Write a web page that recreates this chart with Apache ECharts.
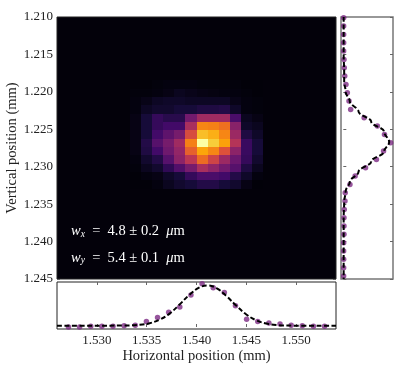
<!DOCTYPE html>
<html>
<head>
<meta charset="utf-8">
<title>Beam spot</title>
<script src="https://cdn.jsdelivr.net/npm/echarts@6/dist/echarts.min.js"></script>
<style>
html, body { margin: 0; padding: 0; background: #fff; }
#main { width: 407px; height: 366px; }
</style>
</head>
<body>
<div id="main"></div>
<script>
var xTicks = [1.530, 1.535, 1.540, 1.545, 1.550];
var yTicks = [1.210, 1.215, 1.220, 1.225, 1.230, 1.235, 1.240, 1.245];

// camera pixel pitch in mm, first column / row centre
var colStart = 1.52715, colStep = 0.0011175, colCount = 24;
var rowStart = 1.2101, rowStep = 0.001113, rowCount = 32;

// image intensity, columns 6-17 and rows 8-20, all the rest is backgroundLevel
var backgroundLevel = 0.012;
var spotFirstCol = 6, spotFirstRow = 8;
var spotRows = [
	[.01, .01, .015, .02, .02, .02, .015, .015, .015, .015, .01, .01],
	[.015, .015, .02, .03, .05, .04, .03, .025, .02, .02, .015, .01],
	[.02, .035, .06, .07, .07, .06, .06, .06, .06, .035, .02, .015],
	[.02, .06, .08, .08, .10, .10, .12, .12, .13, .07, .02, .015],
	[.03, .10, .17, .14, .14, .32, .43, .43, .43, .22, .05, .03],
	[.03, .10, .17, .20, .20, .45, .73, .72, .68, .37, .07, .05],
	[.03, .10, .20, .27, .33, .58, .85, .82, .73, .42, .12, .07],
	[.03, .13, .25, .33, .43, .72, 1.0, .88, .79, .48, .18, .10],
	[.03, .12, .20, .31, .40, .64, .80, .73, .60, .38, .18, .10],
	[.02, .08, .13, .25, .38, .50, .67, .55, .42, .30, .17, .08],
	[.015, .05, .08, .16, .24, .33, .45, .39, .32, .25, .12, .05],
	[.01, .02, .03, .07, .10, .17, .22, .22, .20, .13, .07, .02],
	[.01, .01, .02, .05, .08, .10, .13, .13, .10, .08, .03, .01]
];

// line cuts through the brightest pixel
var cutX = [0, 0, .015, .015, .02, .03, .04, .13, .22, .34, .46, .74, 1, .91, .80, .49, .18, .13, .09, .07, .04, .03, .02, .015];
var cutY = [.007, .007, .007, .007, .007, .014, .02, .03, .056, .085, .12, .155, .44, .72, .87, 1, .85, .70, .47, .25, .14, .04, .035, .02, .014, .014, .014, .007, .007, .007, .007, .007];

// gaussian fits
var fitXPos = [1.526, 1.5293, 1.5327, 1.5343, 1.5353, 1.5363, 1.5373, 1.5383, 1.5393, 1.5403, 1.5411, 1.5420, 1.5430, 1.5440, 1.5450, 1.5460, 1.5470, 1.5480, 1.5497, 1.554];
var fitXVal = [.03, .03, .035, .05, .087, .17, .31, .52, .746, .915, .96, .90, .715, .49, .29, .155, .08, .048, .032, .03];
var fitYPos = [1.21, 1.2151, 1.2173, 1.2186, 1.2200, 1.2213, 1.2226, 1.2240, 1.2253, 1.2267, 1.2280, 1.2293, 1.2307, 1.2320, 1.2333, 1.2347, 1.2369, 1.245];
var fitYVal = [.007, .007, .018, .018, .049, .137, .32, .59, .86, .97, .86, .59, .32, .137, .049, .018, .007, .007];

var inferno = ['#000004', '#160b39', '#420a68', '#6a176e', '#932667', '#bc3754', '#dd513a', '#f37819', '#fca50a', '#f6d746', '#fcffa4'];

var xTitle = 'Horizontal position (mm)';
var yTitle = 'Vertical position (mm)';
var labelWx = '{i|w}{s|x}{n|  =  4.8 ± 0.2  }{i|μ}{n|m}';
var labelWy = '{i|w}{s|y}{n|  =  5.4 ± 0.1  }{i|μ}{n|m}';

var fontName = '"Liberation Serif", "Times New Roman", serif';
var frameDark = '#222';
var frameGrey = '#777';
var dotColor = '#7d2c85';

function colPos(i) { return colStart + i * colStep; }
function rowPos(i) { return rowStart + i * rowStep; }

function buildCells() {
	var cells = [];
	for(var r = 0; r < rowCount; r++) {
		for(var c = -1; c <= colCount; c++) {
			var v = backgroundLevel;
			var line = spotRows[r - spotFirstRow];
			if(line && line[c - spotFirstCol] !== undefined) {
				v = line[c - spotFirstCol];
			}
			cells.push([colPos(c), rowPos(r), v]);
		}
	}
	return cells;
}

function renderCell(params, api) {
	var x = api.value(0), y = api.value(1);
	var a = api.coord([x - colStep / 2, y - rowStep / 2]);
	var b = api.coord([x + colStep / 2, y + rowStep / 2]);
	// snapped so no white seams show between the cells
	var rect = echarts.graphic.clipRectByRect({
		x: Math.round(a[0]),
		y: Math.round(a[1]),
		width: Math.round(b[0]) - Math.round(a[0]),
		height: Math.round(b[1]) - Math.round(a[1])
	}, {
		x: params.coordSys.x,
		y: params.coordSys.y,
		width: params.coordSys.width,
		height: params.coordSys.height
	});
	if(!rect) {
		return;
	}
	return {
		type: 'rect',
		shape: rect,
		style: { fill: api.visual('color') }
	};
}

function zip(a, b) {
	var out = [];
	for(var i = 0; i < a.length; i++) {
		out.push([a[i], b[i]]);
	}
	return out;
}

function tickAxis(grid, pos, ticks, color) {
	return {
		type: 'value',
		gridIndex: grid,
		position: pos,
		silent: true,
		splitLine: { show: false },
		axisLine: { show: false },
		axisLabel: { show: false },
		axisTick: { show: true, inside: true, length: 3, customValues: ticks, lineStyle: { color: color, width: 1 } }
	};
}

function withRange(axis, min, max, extra) {
	axis.min = min;
	axis.max = max;
	for(var k in extra) {
		axis[k] = extra[k];
	}
	return axis;
}

var tickFont = { show: true, color: '#222', fontFamily: fontName, fontSize: 13, formatter: function(v) { return v.toFixed(3); } };
var nameFont = { color: '#222', fontFamily: fontName, fontSize: 14.5 };

var mainLeft = tickAxis(0, 'left', yTicks, '#999');
mainLeft.axisLabel = Object.assign({ customValues: yTicks, margin: 4 }, tickFont);
mainLeft.name = yTitle;
mainLeft.nameLocation = 'middle';
mainLeft.nameGap = 37;
mainLeft.nameMoveOverlap = false;
mainLeft.nameTextStyle = nameFont;

var bottomAxis = tickAxis(1, 'bottom', xTicks, '#666');
bottomAxis.axisLabel = Object.assign({ customValues: xTicks, margin: 5 }, tickFont);
bottomAxis.name = xTitle;
bottomAxis.nameLocation = 'middle';
bottomAxis.nameGap = 20;
bottomAxis.nameTextStyle = nameFont;

var option = {
	animation: false,
	backgroundColor: '#fff',
	grid: [
		{ left: 57, top: 17, width: 279, height: 262, show: true, borderColor: frameDark, borderWidth: 1, z: 5, outerBoundsMode: 'none' },
		{ left: 57, top: 282, width: 279, height: 47, show: true, borderColor: frameDark, borderWidth: 1, outerBoundsMode: 'none' },
		{ left: 341, top: 17, width: 52, height: 262, show: true, borderColor: frameGrey, borderWidth: 1.5, outerBoundsMode: 'none' }
	],
	xAxis: [
		withRange(tickAxis(0, 'bottom', xTicks, '#ccc'), 1.526, 1.554),
		withRange(tickAxis(0, 'top', xTicks, '#999'), 1.526, 1.554),
		withRange(bottomAxis, 1.526, 1.554),
		withRange(tickAxis(1, 'top', xTicks, '#666'), 1.526, 1.554),
		withRange(tickAxis(2, 'bottom', [], '#666'), -0.049, 1.05)
	],
	yAxis: [
		withRange(mainLeft, 1.21, 1.245, { inverse: true }),
		withRange(tickAxis(0, 'right', yTicks, '#999'), 1.21, 1.245, { inverse: true }),
		withRange(tickAxis(1, 'left', [], '#666'), -0.046, 1.04),
		withRange(tickAxis(2, 'left', yTicks, '#666'), 1.21, 1.245, { inverse: true }),
		withRange(tickAxis(2, 'right', yTicks, '#666'), 1.21, 1.245, { inverse: true })
	],
	visualMap: {
		show: false,
		seriesIndex: 0,
		dimension: 2,
		min: 0,
		max: 1,
		inRange: { color: inferno }
	},
	series: [
		{
			type: 'custom',
			xAxisIndex: 0,
			yAxisIndex: 0,
			encode: { x: 0, y: 1 },
			renderItem: renderCell,
			data: buildCells(),
			silent: true
		},
		{
			type: 'scatter',
			xAxisIndex: 2,
			yAxisIndex: 2,
			symbolSize: 5.5,
			itemStyle: { color: dotColor },
			data: zip(cutX.map(function(v, i) { return colPos(i); }), cutX),
			z: 2
		},
		{
			type: 'line',
			xAxisIndex: 2,
			yAxisIndex: 2,
			smooth: 0.4,
			symbol: 'none',
			lineStyle: { color: '#000', width: 2, type: [5, 2.5] },
			data: zip(fitXPos, fitXVal),
			z: 3
		},
		{
			type: 'scatter',
			xAxisIndex: 4,
			yAxisIndex: 3,
			symbolSize: 5.5,
			itemStyle: { color: dotColor },
			data: zip(cutY, cutY.map(function(v, i) { return rowPos(i); })),
			z: 2
		},
		{
			type: 'line',
			xAxisIndex: 4,
			yAxisIndex: 3,
			smooth: 0.4,
			smoothMonotone: 'y',
			symbol: 'none',
			lineStyle: { color: '#000', width: 2, type: [5, 2.5] },
			data: zip(fitYVal, fitYPos),
			z: 3
		}
	],
	graphic: [labelWx, labelWy].map(function(txt, i) {
		return {
			type: 'text',
			left: 71,
			top: 224 + i * 26.5,
			z: 20,
			style: {
				text: txt,
				fill: '#fff',
				font: '14px ' + fontName,
				rich: {
					i: { fontFamily: fontName, fontSize: 14.5, fontStyle: 'italic', fill: '#fff' },
					s: { fontFamily: fontName, fontSize: 9.5, fontStyle: 'italic', fill: '#fff', padding: [5, 0, 0, 0] },
					n: { fontFamily: fontName, fontSize: 14.5, fill: '#fff' }
				}
			}
		};
	})
};

var chart = echarts.init(document.getElementById('main'));
chart.setOption(option);
</script>
</body>
</html>
